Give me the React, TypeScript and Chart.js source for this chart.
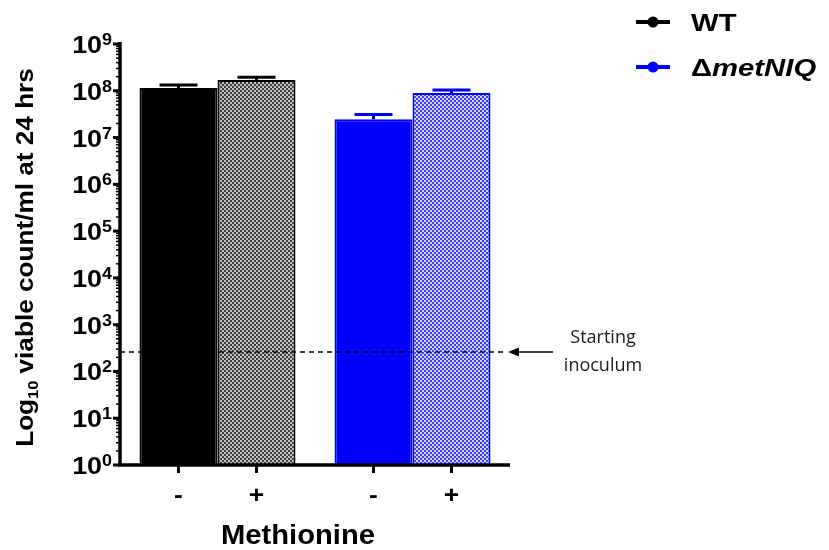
import React, { useEffect, useRef } from 'react';
import { Chart, registerables } from 'chart.js';

Chart.register(...registerables);

// ---- data ----
const groups = ['WT', 'ΔmetNIQ'];
const methionineLabels = ['-', '+'];
const withoutMethionine = [1.15e8, 2.45e7];
const withMethionine = [1.7e8, 9.0e7];
const withoutMethionineUpper = [1.33e8, 3.1e7]; // top of error bar
const withMethionineUpper = [1.95e8, 1.04e8];
const yTickExponents = [0, 1, 2, 3, 4, 5, 6, 7, 8, 9];
const startingInoculum = 260;
const groupColors = ['#000000', '#0000ff'];
const xTitle = 'Methionine';
const annotationLines = ['Starting', 'inoculum'];

const W = 829;
const H = 550;
const BOLD = '"Liberation Sans", Arial, sans-serif';

type Run = { text: string; size: number; dy?: number; italic?: boolean; bold?: boolean };

function runFont(r: Run) {
  return `${r.italic ? 'italic ' : ''}${r.bold === false ? '' : 'bold '}${r.size}px ${BOLD}`;
}

function drawRuns(ctx: CanvasRenderingContext2D, runs: Run[], x: number, y: number, align: 'left' | 'center' | 'right', sx: number, baseline: CanvasTextBaseline = 'alphabetic') {
  ctx.save();
  ctx.textBaseline = baseline;
  ctx.textAlign = 'left';
  let total = 0;
  const widths = runs.map((r) => {
    ctx.font = runFont(r);
    const w = ctx.measureText(r.text).width * sx;
    total += w;
    return w;
  });
  let cx = align === 'left' ? x : align === 'center' ? x - total / 2 : x - total;
  runs.forEach((r, i) => {
    ctx.save();
    ctx.font = runFont(r);
    ctx.translate(cx, y + (r.dy || 0));
    ctx.scale(sx, 1);
    ctx.fillText(r.text, 0, 0);
    ctx.restore();
    cx += widths[i];
  });
  ctx.restore();
}

function makePattern(ctx: CanvasRenderingContext2D, light: string, dark: string) {
  const c = document.createElement('canvas');
  c.width = 4;
  c.height = 4;
  const p = c.getContext('2d')!;
  p.fillStyle = dark;
  p.fillRect(0, 0, 4, 4);
  p.fillStyle = light;
  p.fillRect(0, 0, 2, 2);
  p.fillRect(2, 2, 2, 2);
  return ctx.createPattern(c, 'repeat')!;
}

const overlayPlugin = {
  id: 'overlay',
  afterDatasetsDraw(chart: any) {
    const ctx: CanvasRenderingContext2D = chart.ctx;
    const { left, right, top, bottom } = chart.chartArea;
    const y = chart.scales.y;
    const uppers = [withoutMethionineUpper, withMethionineUpper];
    const values = [withoutMethionine, withMethionine];

    ctx.save();
    // error bars (upper only)
    for (let d = 0; d < 2; d++) {
      const meta = chart.getDatasetMeta(d);
      meta.data.forEach((bar: any, j: number) => {
        const yTop = y.getPixelForValue(values[d][j]);
        const yUp = y.getPixelForValue(uppers[d][j]);
        ctx.strokeStyle = groupColors[j];
        ctx.lineWidth = 3;
        ctx.beginPath();
        ctx.moveTo(bar.x, yTop);
        ctx.lineTo(bar.x, yUp);
        ctx.moveTo(bar.x - 19, yUp);
        ctx.lineTo(bar.x + 19, yUp);
        ctx.stroke();
      });
    }

    // starting inoculum dashed line
    const yi = y.getPixelForValue(startingInoculum);
    ctx.strokeStyle = '#000';
    ctx.lineWidth = 1.5;
    ctx.setLineDash([5, 4]);
    ctx.beginPath();
    ctx.moveTo(left, yi);
    ctx.lineTo(right - 4, yi);
    ctx.stroke();
    ctx.setLineDash([]);

    // arrow
    const tipX = right - 2;
    ctx.lineWidth = 1.5;
    ctx.beginPath();
    ctx.moveTo(tipX + 4, yi);
    ctx.lineTo(right + 43, yi);
    ctx.stroke();
    ctx.fillStyle = '#000';
    ctx.beginPath();
    ctx.moveTo(tipX, yi);
    ctx.lineTo(tipX + 11, yi - 4.5);
    ctx.lineTo(tipX + 11, yi + 4.5);
    ctx.closePath();
    ctx.fill();

    // annotation text
    ctx.fillStyle = '#1a1a1a';
    ctx.font = '18px "Open Sans", sans-serif';
    ctx.textAlign = 'center';
    ctx.textBaseline = 'middle';
    ctx.fillText(annotationLines[0], right + 93, yi - 14);
    ctx.fillText(annotationLines[1], right + 93, yi + 14);

    // axes
    ctx.strokeStyle = '#000';
    ctx.lineWidth = 3.5;
    ctx.beginPath();
    ctx.moveTo(left, top - 2);
    ctx.lineTo(left, bottom + 1.5);
    ctx.moveTo(left - 1.5, bottom);
    ctx.lineTo(right, bottom);
    ctx.stroke();

    // y ticks: minor then major
    ctx.lineWidth = 1.5;
    for (let e = 0; e < 9; e++) {
      for (let m = 2; m <= 9; m++) {
        const py = y.getPixelForValue(m * Math.pow(10, e));
        ctx.beginPath();
        ctx.moveTo(left - 4, py);
        ctx.lineTo(left, py);
        ctx.stroke();
      }
    }
    ctx.lineWidth = 3;
    ctx.fillStyle = '#000';
    yTickExponents.forEach((e) => {
      const py = y.getPixelForValue(Math.pow(10, e));
      ctx.beginPath();
      ctx.moveTo(left - 7, py);
      ctx.lineTo(left, py);
      ctx.stroke();
      drawRuns(ctx, [
        { text: '10', size: 24, dy: 9 },
        { text: String(e), size: 16, dy: 1 },
      ], left - 8, py, 'right', 1.12);
    });

    // x ticks and labels
    for (let d = 0; d < 2; d++) {
      const meta = chart.getDatasetMeta(d);
      meta.data.forEach((bar: any) => {
        ctx.lineWidth = 3;
        ctx.beginPath();
        ctx.moveTo(bar.x, bottom);
        ctx.lineTo(bar.x, bottom + 8);
        ctx.stroke();
        drawRuns(ctx, [{ text: methionineLabels[d], size: 24 }], bar.x, bottom + 38, 'center', 1.1);
      });
    }

    // x title
    drawRuns(ctx, [{ text: xTitle, size: 27 }], (left + right) / 2 - 17, bottom + 79, 'center', 1.08);

    // y title
    ctx.save();
    ctx.translate(33, (top + bottom) / 2 + 3);
    ctx.rotate(-Math.PI / 2);
    drawRuns(ctx, [
      { text: 'Log', size: 24 },
      { text: '10', size: 15, dy: 5 },
      { text: ' viable count/ml at 24 hrs', size: 24 },
    ], 0, 0, 'center', 1.09);
    ctx.restore();

    // legend
    const legendY = [22, 67];
    groups.forEach((g, i) => {
      const ly = legendY[i];
      ctx.strokeStyle = groupColors[i];
      ctx.fillStyle = groupColors[i];
      ctx.lineWidth = 4;
      ctx.beginPath();
      ctx.moveTo(right + 126, ly);
      ctx.lineTo(right + 160, ly);
      ctx.stroke();
      ctx.beginPath();
      ctx.arc(right + 143, ly, 5.5, 0, Math.PI * 2);
      ctx.fill();
      ctx.fillStyle = '#000';
      const runs: Run[] = g.startsWith('Δ')
        ? [{ text: 'Δ', size: 24 }, { text: g.slice(1), size: 24, italic: true }]
        : [{ text: g, size: 24 }];
      drawRuns(ctx, runs, right + 181, ly + 9, 'left', 1.22);
    });
    ctx.restore();
  },
};

export default function App() {
  const ref = useRef<HTMLCanvasElement>(null);
  useEffect(() => {
    const canvas = ref.current!;
    const ctx = canvas.getContext('2d')!;
    const grayPattern = makePattern(ctx, '#c4c4c4', '#3c3c3c');
    const bluePattern = makePattern(ctx, '#d4d4ff', '#3a3aff');
    const chart = new Chart(canvas, {
      type: 'bar',
      data: {
        labels: groups,
        datasets: [
          {
            label: methionineLabels[0],
            data: withoutMethionine,
            backgroundColor: [groupColors[0], groupColors[1]],
            borderColor: [groupColors[0], groupColors[1]],
            borderWidth: 2,
            categoryPercentage: 0.8,
            barPercentage: 1,
          },
          {
            label: methionineLabels[1],
            data: withMethionine,
            backgroundColor: [grayPattern, bluePattern] as any,
            borderColor: [groupColors[0], groupColors[1]],
            borderWidth: 2,
            categoryPercentage: 0.8,
            barPercentage: 1,
          },
        ],
      },
      options: {
        responsive: false,
        animation: false,
        devicePixelRatio: 1,
        layout: { padding: { left: 120, right: W - 510, top: 44, bottom: H - 465 } },
        scales: {
          x: { display: false },
          y: { type: 'logarithmic', min: 1, max: 1e9, display: false },
        },
        plugins: { legend: { display: false }, tooltip: { enabled: false } },
      },
      plugins: [overlayPlugin],
    });
    return () => chart.destroy();
  }, []);
  return (
    <div style={{ position: 'absolute', left: 0, top: 0, width: W, height: H, background: '#fff' }}>
      <canvas ref={ref} width={W} height={H} style={{ display: 'block' }} />
    </div>
  );
}
